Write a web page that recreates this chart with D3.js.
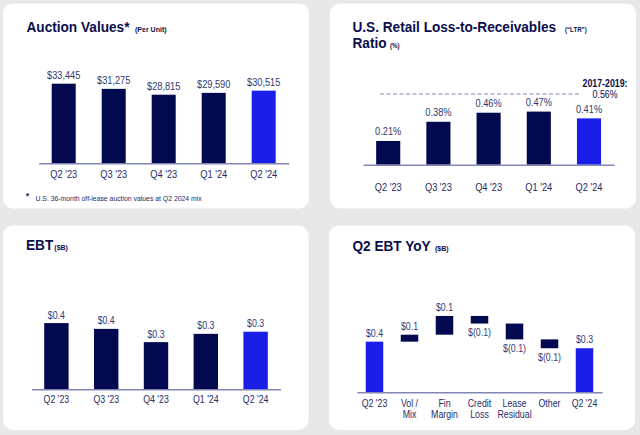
<!DOCTYPE html>
<html><head><meta charset="utf-8">
<script src="https://cdn.jsdelivr.net/npm/d3@7"></script>
<style>
html,body{margin:0;padding:0;background:#e8e8e8;}
svg{display:block;font-family:"Liberation Sans",Arial,sans-serif;}
</style></head>
<body>
<svg id="c" width="640" height="435"></svg>
<script>
// ---------- data ----------
const quarters = ["Q2 '23", "Q3 '23", "Q4 '23", "Q1 '24", "Q2 '24"];
const auctionValues = [33445, 31275, 28815, 29590, 30515];
const ltrValues = [0.21, 0.38, 0.46, 0.47, 0.41];
const ltrBenchmark = 0.56;
const ltrBenchmarkLabel = ["2017-2019:", "0.56%"];
const ebtValues = [0.40, 0.365, 0.285, 0.335, 0.348];
const wfCategories = ["Q2 '23", "Vol /|Mix", "Fin|Margin", "Credit|Loss", "Lease|Residual", "Other", "Q2 '24"];
const wfStart = 0.40;
const wfDeltas = [0.055, 0.148, -0.060, -0.125, -0.070];
const wfEnd = 0.348;

// ---------- style ----------
const NAVY = "#03094f", BLUE = "#1a1ee8", TITLE = "#0b0e4c", LABEL = "#33386f", AX = "#262a66", LINE = "#8186b4";
const SX = 0.88;
const svg = d3.select("#c");

function txt(g, x, y, s, o = {}) {
  return g.append("text")
    .attr("transform", `translate(${x},${y}) scale(${o.sx || SX},1)`)
    .attr("text-anchor", o.anchor || "start")
    .attr("font-size", o.size || 10)
    .attr("font-weight", o.weight || "normal")
    .attr("fill", o.fill || LABEL)
    .text(s);
}

// cards
[[3, 3.5, 306, 205], [330, 3.5, 306, 205], [3, 225.5, 305.5, 204.5], [329, 225.5, 306, 204.5]].forEach(c => {
  svg.append("rect").attr("x", c[0]).attr("y", c[1]).attr("width", c[2]).attr("height", c[3])
    .attr("rx", 10).attr("fill", "#fff");
});

function drawAxis(x, baseY, pad, size) {
  const g = svg.append("g").attr("transform", `translate(0,${baseY})`)
    .call(d3.axisBottom(x).tickSize(0).tickSizeOuter(0));
  g.select(".domain").attr("stroke", LINE).attr("stroke-width", 1.5);
  g.selectAll(".tick text").each(function (d) {
    const t = d3.select(this);
    const lines = d.split("|");
    t.text(null).attr("dy", null).attr("y", null)
      .attr("transform", `scale(${SX},1)`)
      .attr("font-size", size || 10).attr("fill", AX)
      .attr("font-family", "Liberation Sans, Arial, sans-serif");
    lines.forEach((l, i) => t.append("tspan").attr("x", 0).attr("y", pad + i * 11).text(l));
  });
  return g;
}

// ---------- Panel 1: Auction values ----------
{
  txt(svg, 26.5, 31.5, "Auction Values*", { size: 15.5, weight: "bold", fill: TITLE });
  txt(svg, 135, 31.5, "(Per Unit)", { size: 8, weight: "bold", fill: TITLE });
  const x = d3.scaleBand().domain(quarters).range([38.7, 288.7]).paddingInner(0.52).paddingOuter(0.26);
  const y = d3.scaleLinear().domain([0, 40000]).range([163.3, 68.1]);
  svg.append("g").selectAll("rect").data(auctionValues).join("rect")
    .attr("x", (d, i) => x(quarters[i])).attr("width", x.bandwidth())
    .attr("y", d => y(d)).attr("height", d => y(0) - y(d))
    .attr("fill", (d, i) => i === auctionValues.length - 1 ? BLUE : NAVY);
  auctionValues.forEach((d, i) => txt(svg, x(quarters[i]) + x.bandwidth() / 2, y(d) - 5, "$" + d3.format(",")(d), { anchor: "middle", size: 10.5 }));
  drawAxis(x, 163.3, 15, 10.5);
  txt(svg, 26, 199, "*", { size: 9, weight: "bold", fill: TITLE });
  txt(svg, 35.5, 201, "U.S. 36-month off-lease auction values at Q2 2024 mix", { size: 7.8, fill: AX });
}

// ---------- Panel 2: LTR ratio ----------
{
  txt(svg, 352.5, 31.5, "U.S. Retail Loss-to-Receivables", { size: 15.5, weight: "bold", fill: TITLE });
  txt(svg, 565, 31.5, "(\u201CLTR\u201D)", { size: 7, weight: "bold", fill: TITLE });
  txt(svg, 352.5, 48.3, "Ratio", { size: 15.5, weight: "bold", fill: TITLE });
  txt(svg, 390, 48.3, "(%)", { size: 7, weight: "bold", fill: TITLE });
  const x = d3.scaleBand().domain(quarters).range([363.1, 614.1]).paddingInner(0.52).paddingOuter(0.26);
  const y = d3.scaleLinear().domain([0, 0.7]).range([164.7, 85.6]);
  // benchmark line (drawn slightly above its scaled value, as in the source slide)
  const by = y(ltrBenchmark) - 7.4;
  svg.append("line").attr("x1", 380).attr("x2", 580).attr("y1", by).attr("y2", by)
    .attr("stroke", LINE).attr("stroke-width", 1).attr("stroke-dasharray", "4,2.5");
  txt(svg, 605, 86.7, ltrBenchmarkLabel[0], { anchor: "middle", size: 10, weight: "bold", fill: TITLE });
  txt(svg, 605, 97.7, ltrBenchmarkLabel[1], { anchor: "middle", size: 10, fill: TITLE });
  svg.append("g").selectAll("rect").data(ltrValues).join("rect")
    .attr("x", (d, i) => x(quarters[i])).attr("width", x.bandwidth())
    .attr("y", d => y(d)).attr("height", d => y(0) - y(d))
    .attr("fill", (d, i) => i === ltrValues.length - 1 ? BLUE : NAVY);
  ltrValues.forEach((d, i) => txt(svg, x(quarters[i]) + x.bandwidth() / 2, y(d) - 5.5, d3.format(".2f")(d) + "%", { anchor: "middle", size: 10.5 }));
  drawAxis(x, 164.7, 26, 10.5);
}

// ---------- Panel 3: EBT ----------
{
  txt(svg, 26, 250.3, "EBT", { size: 15.5, weight: "bold", fill: TITLE });
  txt(svg, 54.3, 250.3, "($B)", { size: 8, weight: "bold", fill: TITLE });
  const x = d3.scaleBand().domain(quarters).range([31.5, 280.5]).paddingInner(0.51).paddingOuter(0.255);
  const y = d3.scaleLinear().domain([0, 0.5]).range([389.3, 306.55]);
  svg.append("g").selectAll("rect").data(ebtValues).join("rect")
    .attr("x", (d, i) => x(quarters[i])).attr("width", x.bandwidth())
    .attr("y", d => y(d)).attr("height", d => y(0) - y(d))
    .attr("fill", (d, i) => i === ebtValues.length - 1 ? BLUE : NAVY);
  ebtValues.forEach((d, i) => txt(svg, x(quarters[i]) + x.bandwidth() / 2, y(d) - 4.5, "$" + d3.format(".1f")(d), { anchor: "middle", size: 10 }));
  drawAxis(x, 389.3, 14, 10);
}

// ---------- Panel 4: Waterfall ----------
{
  txt(svg, 352.5, 251.3, "Q2 EBT YoY", { size: 15.5, weight: "bold", fill: TITLE });
  txt(svg, 435, 251.3, "($B)", { size: 8, weight: "bold", fill: TITLE });
  const x = d3.scaleBand().domain(wfCategories).range([357, 602]).paddingInner(0.5).paddingOuter(0.25);
  const y = d3.scaleLinear().domain([0, 0.7]).range([392.3, 303.68]);
  const steps = [];
  steps.push({ cat: wfCategories[0], lo: 0, hi: wfStart, v: wfStart, total: true });
  let run = wfStart;
  wfDeltas.forEach((d, i) => {
    const a = run, b = run + d;
    steps.push({ cat: wfCategories[i + 1], lo: Math.min(a, b), hi: Math.max(a, b), v: d, total: false });
    run = b;
  });
  steps.push({ cat: wfCategories[wfCategories.length - 1], lo: 0, hi: wfEnd, v: wfEnd, total: true });
  svg.append("g").selectAll("rect").data(steps).join("rect")
    .attr("x", d => x(d.cat)).attr("width", x.bandwidth())
    .attr("y", d => y(d.hi)).attr("height", d => y(d.lo) - y(d.hi))
    .attr("fill", d => d.total ? BLUE : NAVY);
  steps.forEach(d => {
    const cx = x(d.cat) + x.bandwidth() / 2;
    if (d.v >= 0) txt(svg, cx, y(d.hi) - 5, "$" + d3.format(".1f")(d.v), { anchor: "middle", size: 10 });
    else txt(svg, cx, y(d.lo) + 12.6, "$(" + d3.format(".1f")(-d.v) + ")", { anchor: "middle", size: 10 });
  });
  drawAxis(x, 392.3, 14.7, 10);
}
</script>
</body></html>
